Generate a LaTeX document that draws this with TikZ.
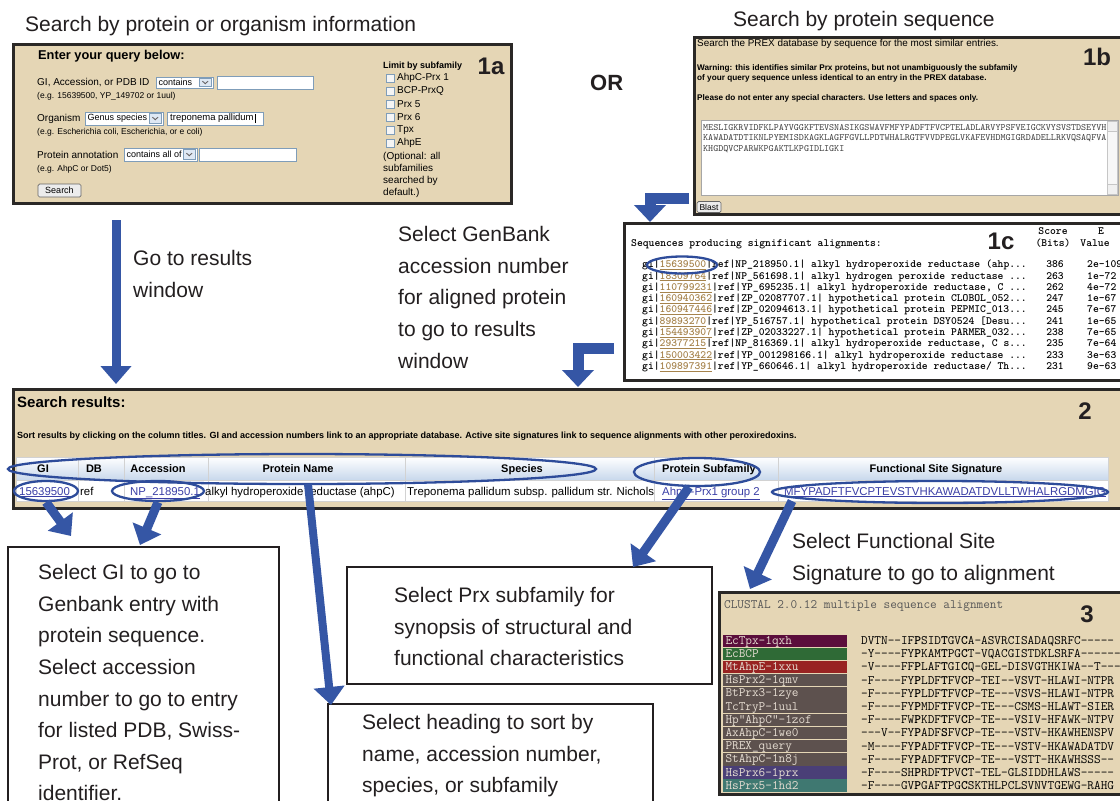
\documentclass[tikz,border=0pt]{standalone}
\usepackage{fontspec}
\setmainfont{Liberation Sans}
\usetikzlibrary{arrows.meta,shapes.geometric}

\definecolor{paneltan}{HTML}{E5D6B5}
\definecolor{panelrule}{HTML}{2A2826}
\definecolor{arrowblue}{HTML}{3556A5}
\definecolor{ringblue}{HTML}{2E4C9A}
\definecolor{ink}{HTML}{231F20}
\definecolor{linkblue}{HTML}{3B3FA6}
\definecolor{linktan}{HTML}{A6834C}
\definecolor{fieldrule}{HTML}{7F9DB9}
\definecolor{headblue}{HTML}{C8D8EC}
\definecolor{seqgrey}{HTML}{3A3A3A}
\definecolor{tpxcol}{HTML}{5B0E3C}
\definecolor{bcpcol}{HTML}{2F6A36}
\definecolor{ahpecol}{HTML}{982322}
\definecolor{prxcol}{HTML}{5D514E}
\definecolor{prxsixcol}{HTML}{4A3F77}
\definecolor{prxfivecol}{HTML}{3F7871}
\definecolor{namefg}{HTML}{E6DDD2}

\newcommand\px[2]{\fontsize{#1}{#2}\selectfont}
\newcommand\gilink[1]{\textcolor{linktan}{\underline{#1}}}
\newcommand\weblink[1]{\textcolor{linkblue}{\underline{#1}}}

\tikzset{
  panel/.style={draw=panelrule, line width=2.6pt, fill=paneltan, inner sep=0pt},
  notebox/.style={draw=ink, line width=1.8pt, fill=white, inner sep=0pt},
  caption/.style={font=\px{21}{31.6}, text=ink, inner sep=0pt, align=left},
  fat/.style={draw=arrowblue, line width=9pt, -{Triangle[width=30pt,length=18pt]}},
  elbow/.style={draw=arrowblue, line width=11pt, line join=miter, -{Triangle[width=31pt,length=17pt]}},
  ring/.style={draw=ringblue, line width=2.3pt, ellipse, inner sep=0pt},
  web/.style={inner sep=0pt, text=black, font=\px{10}{12}},
  formtext/.style={inner sep=0pt, text=black, font=\px{9}{10}},
  field/.style={draw=fieldrule, fill=white, line width=0.8pt},
  checkbox/.style={draw=fieldrule, fill=gray!8, line width=0.7pt},
  button/.style={draw=gray!80!black, fill=gray!15, rounded corners=1.5pt, line width=0.7pt,
    inner sep=0pt, font=\px{9}{10}},
  tag/.style={inner sep=0pt, text=ink, font=\px{24}{26}\bfseries},
  hitrow/.style={inner sep=0pt, text=black, font=\ttfamily\bfseries\px{11.1}{12}},
  headcell/.style={inner sep=0pt, text=black, font=\px{11}{12}\bfseries, anchor=base},
  cell/.style={inner sep=0pt, text=black, font=\px{11.4}{12}, anchor=base west},
  namebox/.style={inner xsep=2.5pt, inner ysep=0pt, text width=119pt, align=left,
    minimum height=12.4pt, text height=8.5pt, text depth=1.5pt, text=namefg,
    font=\ttfamily\px{12.9}{14}},
  seqrow/.style={inner sep=0pt, text=black, font=\ttfamily\px{12.9}{14}, anchor=base west}
}

% one BLAST hit: index, baseline, gi number, remainder, score, e-value
\newcommand\blastrow[6]{%
  \node[hitrow, anchor=base west] (hit#1) at (642,#2) {gi|\gilink{#3}|#4};
  \node[hitrow, anchor=base east] (score#1) at (1064,#2) {#5};
  \node[hitrow, anchor=base west] (eval#1) at (1087,#2) {#6};}

% one alignment line: index, colour of the name cell, name, sequence
\newcommand\alnrow[4]{%
  \node[namebox, fill=#2] (name#1) at (785,{640.7+13.18*(#1-1)}) {#3};
  \node[seqrow] (aln#1) at (861,{644.6+13.18*(#1-1)}) {#4};}

% select box with its drop-down button
\newcommand\dropdown[6]{%
  \draw[field] (#2,#3) rectangle (#4,#5);
  \node[formtext, anchor=west] (#1) at (#2+2.5,{(#3+#5)/2}) {#6};
  \draw[fieldrule, fill=headblue!60, line width=0.6pt] (#4-14,#3+1.5) rectangle (#4-1.5,#5-1.5);
  \draw[ink!70, line width=0.9pt] (#4-10.5,{(#3+#5)/2-1.3}) -- (#4-7.75,{(#3+#5)/2+1.2}) -- (#4-5,{(#3+#5)/2-1.3});}

\begin{document}
\begin{tikzpicture}[x=1pt,y=-1pt]
\useasboundingbox (0,0) rectangle (1120,801);
\fill[white] (0,0) rectangle (1120,801);

% ---------- captions over the two search forms ----------
\node[caption, anchor=base west] (capA) at (25,31.5) {Search by protein or organism information};
\node[caption, anchor=base west] (capB) at (733,26.5) {Search by protein sequence};
\node[caption, font=\px{22}{26}\bfseries, anchor=base west] (orword) at (590,90) {OR};

% ---------- 1a: query form ----------
\node[panel, anchor=north west, minimum width=498pt, minimum height=159pt] (p1a) at (12,43) {};
\node[web, font=\px{12.8}{14}\bfseries, anchor=base west] (qhead) at (38,59.6) {Enter your query below:};
\node[web, anchor=base west] (qgi) at (37,85.6) {GI, Accession, or PDB ID};
\dropdown{ddgi}{156}{77}{213}{88}{contains}
\draw[field] (217,76) rectangle (313,89);
\node[web, font=\px{8.5}{10}, anchor=base west] (exgi) at (37,98) {(e.g. 15639500, YP\_149702 or 1uul)};
\node[web, anchor=base west] (qorg) at (37,121.6) {Organism};
\dropdown{ddorg}{85}{112}{163}{125}{Genus species}
\draw[field] (167,112) rectangle (263,125);
\node[formtext, font=\px{9.5}{10}, anchor=west] (orgval) at (170,118.5) {treponema pallidum};
\draw[black, line width=0.6pt] ([xshift=1pt,yshift=-4.5pt]orgval.east) -- ([xshift=1pt,yshift=4.5pt]orgval.east);
\node[web, font=\px{8.5}{10}, anchor=base west] (exorg) at (37,134) {(e.g. Escherichia coli, Escherichia, or e coli)};
\node[web, anchor=base west] (qann) at (37,158.6) {Protein annotation};
\dropdown{ddann}{124}{148}{197}{161}{contains all of}
\draw[field] (199,148) rectangle (296,161);
\node[web, font=\px{8.5}{10}, anchor=base west] (exann) at (37,171) {(e.g. AhpC or Dot5)};
\node[button, minimum width=43pt, minimum height=13pt] (searchbtn) at (59.5,190.5) {Search};

\node[web, font=\px{9}{11}\bfseries, anchor=base west] (limhead) at (383,68) {Limit by subfamily};
\foreach \i/\yy/\t in {1/78/AhpC-Prx 1, 2/91/BCP-PrxQ, 3/104/Prx 5, 4/117/Prx 6, 5/130/Tpx, 6/143/AhpE}{
  \draw[checkbox] (386.5,\yy-4) rectangle (394.5,\yy+4);
  \node[web, anchor=west] (sub\i) at (397,\yy) {\t};
}
\node[web, align=left, font=\px{10}{12}, anchor=north west] (limnote) at (383,152)
  {(Optional: all\\subfamilies\\searched by\\default.)};
\node[tag] (tag1a) at (491,66) {1a};

% ---------- 1b: sequence form ----------
\node[panel, anchor=north west, minimum width=431pt, minimum height=177pt] (p1b) at (693,36) {};
\node[web, font=\px{9.9}{11}, anchor=base west] (seqintro) at (697,46.5)
  {Search the PREX database by sequence for the most similar entries.};
\node[web, font=\px{8.2}{10}\bfseries, anchor=north west, align=left] (seqwarn) at (697,64)
  {Warning: this identifies similar Prx proteins, but not unambiguously the subfamily\\
   of your query sequence unless identical to an entry in the PREX database.};
\node[web, font=\px{8.2}{10}\bfseries, anchor=base west] (seqrule) at (697,100)
  {Please do not enter any special characters. Use letters and spaces only.};
\node[tag] (tag1b) at (1097,57) {1b};
\draw[field, draw=gray!70] (701,120) rectangle (1118,195);
\draw[draw=gray!45, fill=gray!6] (1107,121) rectangle (1117,194);
\draw[draw=gray!45, fill=gray!12] (1107,121) rectangle (1117,131);
\draw[draw=gray!45, fill=gray!12] (1107,184) rectangle (1117,194);
\node[inner sep=0pt, text=seqgrey, font=\ttfamily\px{9.6}{10.5}, anchor=north west, align=left] (query) at (703,124)
  {MESLIGKRVIDFKLPAYVGGKFTEVSNASIKGSWAVFMFYPADFTFVCPTELADLARVYPSFVEIGCKVYSVSTDSEYVH\\
   KAWADATDTIKNLPYEMISDKAGKLAGFFGVLLPDTWHALRGTFVVDPEGLVKAFEVHDMGIGRDADELLRKVQSAQFVA\\
   KHGDQVCPARWKPGAKTLKPGIDLIGKI};
\node[button, minimum width=24pt, minimum height=11pt, font=\px{8.5}{10}] (blastbtn) at (709,207) {Blast};

% ---------- 1c: BLAST hits ----------
\node[panel, fill=white, anchor=north west, minimum width=501pt, minimum height=157pt] (p1c) at (623,222) {};
\node[hitrow, anchor=base west] (blasthead) at (631,246.5) {Sequences producing significant alignments:};
\node[tag] (tag1c) at (1001,241) {1c};
\node[hitrow, anchor=base] (scorehd) at (1053,234.5) {Score};
\node[hitrow, anchor=base] (bitshd) at (1053,246.5) {(Bits)};
\node[hitrow, anchor=base] (ehd) at (1101,234.5) {E};
\node[hitrow, anchor=base] (valhd) at (1095,246.5) {Value};
\blastrow{1}{267.8}{15639500}{ref|NP\_218950.1| alkyl hydroperoxide reductase (ahp...}{386}{2e-109}
\blastrow{2}{279.1}{18309764}{ref|NP\_561698.1| alkyl hydrogen peroxide reductase ...}{263}{1e-72}
\blastrow{3}{290.3}{110799231}{ref|YP\_695235.1| alkyl hydroperoxide reductase, C ...}{262}{4e-72}
\blastrow{4}{301.6}{160940362}{ref|ZP\_02087707.1| hypothetical protein CLOBOL\_052...}{247}{1e-67}
\blastrow{5}{312.9}{160947446}{ref|ZP\_02094613.1| hypothetical protein PEPMIC\_013...}{245}{7e-67}
\blastrow{6}{324.2}{89893270}{ref|YP\_516757.1| hypothetical protein DSY0524 [Desu...}{241}{1e-65}
\blastrow{7}{335.4}{154493907}{ref|ZP\_02033227.1| hypothetical protein PARMER\_032...}{238}{7e-65}
\blastrow{8}{346.7}{29377215}{ref|NP\_816369.1| alkyl hydroperoxide reductase, C s...}{235}{7e-64}
\blastrow{9}{358.0}{150003422}{ref|YP\_001298166.1| alkyl hydroperoxide reductase ...}{233}{3e-63}
\blastrow{10}{369.2}{109897391}{ref|YP\_660646.1| alkyl hydroperoxide reductase/ Th...}{231}{9e-63}
\node[ring, minimum width=70pt, minimum height=17pt] (hitring) at (682,265) {};

% ---------- 2: search results ----------
\node[panel, anchor=north west, minimum width=1112pt, minimum height=119pt] (p2) at (12,388) {};
\node[web, font=\px{15}{17}\bfseries, anchor=base west] (reshead) at (17,407.5) {Search results:};
\node[web, font=\px{9}{10}\bfseries, anchor=base west] (resnote) at (17,438)
  {Sort results by clicking on the column titles. GI and accession numbers link to an appropriate database. Active site signatures link to sequence alignments with other peroxiredoxins.};
\node[tag] (tag2) at (1085,411) {2};
\fill[white] (16,457) rectangle (1108,501);
\shade[top color=white, bottom color=headblue] (16,457) rectangle (1108,480);
\draw[gray!35, line width=0.6pt] (16,457) rectangle (1108,501);
\draw[gray!35, line width=0.6pt] (16,480) -- (1108,480);
\foreach \x in {78,124,208,405,654,778}{\draw[gray!35, line width=0.6pt] (\x,457) -- (\x,501);}
\node[headcell] (hgi) at (43,472) {GI};
\node[headcell] (hdb) at (94,472) {DB};
\node[headcell] (hacc) at (158,472) {Accession};
\node[headcell] (hname) at (298,472) {Protein Name};
\node[headcell] (hspec) at (522,472) {Species};
\node[headcell] (hsub) at (709,472) {Protein Subfamily};
\node[headcell] (hsig) at (936,472) {Functional Site Signature};
\node[cell] (gival) at (19,495) {\weblink{15639500}};
\node[cell] (dbval) at (80,495) {ref};
\node[cell] (accval) at (130,495) {\weblink{NP\_218950.1}};
\node[cell] (nameval) at (205,495) {alkyl hydroperoxide reductase (ahpC)};
\node[cell] (specval) at (407,495) {Treponema pallidum subsp. pallidum str. Nichols};
\node[cell] (subval) at (662,495) {\weblink{AhpC-Prx1 group 2}};
\node[cell] (sigval) at (784,495) {\weblink{MFYPADFTFVCPTEVSTVHKAWADATDVLLTWHALRGDMGIG}};
\node[ring, minimum width=588pt, minimum height=30pt] (headring) at (302,469) {};
\node[ring, minimum width=64pt, minimum height=20pt] (giring) at (46,491) {};
\node[ring, minimum width=92pt, minimum height=20pt] (accring) at (158,491) {};
\node[ring, minimum width=126pt, minimum height=28pt] (subring) at (697,472) {};
\node[ring, minimum width=336pt, minimum height=22pt] (sigring) at (940,492) {};

% ---------- explanatory boxes ----------
\node[notebox, anchor=north west, minimum width=271pt, minimum height=284pt] (boxA) at (7,546) {};
\node[caption, anchor=north west] (textA) at (38,564.3)
  {Select GI to go to\\Genbank entry with\\protein sequence.\\Select accession\\number to go to entry\\for listed PDB, Swiss-\\Prot, or RefSeq\\identifier.};
\node[notebox, anchor=north west, minimum width=365pt, minimum height=117pt] (boxC) at (346,566) {};
\node[caption, anchor=north west] (textC) at (394,587.3)
  {Select Prx subfamily for\\synopsis of structural and\\functional characteristics};
\node[notebox, anchor=north west, minimum width=325pt, minimum height=127pt] (boxB) at (327,703) {};
\node[caption, anchor=north west] (textB) at (362,714.3)
  {Select heading to sort by\\name, accession number,\\species, or subfamily};
\node[caption, anchor=north west] (textGo) at (133,250.3) {Go to results\\window};
\node[caption, anchor=north west] (textGB) at (398,226.3)
  {Select GenBank\\accession number\\for aligned protein\\to go to results\\window};
\node[caption, anchor=north west] (textFS) at (792,533.3)
  {Select Functional Site\\Signature to go to alignment};

% ---------- 3: CLUSTAL alignment ----------
\node[panel, anchor=north west, minimum width=406pt, minimum height=202pt] (p3) at (718,591) {};
\node[inner sep=0pt, text=seqgrey!85, font=\ttfamily\px{12.9}{14}, anchor=base west] (clustal) at (724,608)
  {CLUSTAL 2.0.12 multiple sequence alignment};
\node[tag] (tag3) at (1087,614) {3};
\alnrow{1}{tpxcol}{EcTpx-1qxh}{DVTN--IF\textbf{P}SID\textbf{T}GV\textbf{C}A-ASVRCISADAQSRFC-----}
\alnrow{2}{bcpcol}{EcBCP}{-Y----FY\textbf{P}KAM\textbf{T}PG\textbf{C}T-VQACGISTDKLSRFA------}
\alnrow{3}{ahpecol}{MtAhpE-1xxu}{-V----FF\textbf{P}LAF\textbf{T}GI\textbf{C}Q-GEL-DISVGTHKIWA--T---}
\alnrow{4}{prxcol}{HsPrx2-1qmv}{-F----FY\textbf{P}LDF\textbf{T}FV\textbf{C}P-TEI--VSVT-HLAWI-NTPR}
\alnrow{5}{prxcol}{BtPrx3-1zye}{-F----FY\textbf{P}LDF\textbf{T}FV\textbf{C}P-TE---VSVS-HLAWI-NTPR}
\alnrow{6}{prxcol}{TcTryP-1uul}{-F----FY\textbf{P}MDF\textbf{T}FV\textbf{C}P-TE---CSMS-HLAWT-SIER}
\alnrow{7}{prxcol}{Hp"AhpC"-1zof}{-F----FW\textbf{P}KDF\textbf{T}FV\textbf{C}P-TE---VSIV-HFAWK-NTPV}
\alnrow{8}{prxcol}{AxAhpC-1we0}{---V--FY\textbf{P}ADF\textbf{S}FV\textbf{C}P-TE---VSTV-HKAWHENSPV}
\alnrow{9}{prxcol}{PREX\_query}{-M----FY\textbf{P}ADF\textbf{T}FV\textbf{C}P-TE---VSTV-HKAWADATDV}
\alnrow{10}{prxcol}{StAhpC-1n8j}{-F----FY\textbf{P}ADF\textbf{T}FV\textbf{C}P-TE---VSTT-HKAWHSSS--}
\alnrow{11}{prxsixcol}{HsPrx6-1prx}{-F----SH\textbf{P}RDF\textbf{T}PV\textbf{C}T-TEL-GLSIDDHLAWS-----}
\alnrow{12}{prxfivecol}{HsPrx5-1hd2}{-F----GV\textbf{P}GAF\textbf{T}PG\textbf{C}SKTHLPCLSVNVTGEWG-RAHG}

% ---------- blue arrows ----------
\coordinate (goStart) at (116,220);
\coordinate (goEnd) at (116,384);
\coordinate (bOut) at (689,198);
\coordinate (bIn) at (650,222);
\coordinate (cOut) at (614,348);
\coordinate (cIn) at (578,387);
\coordinate (giEnd) at (71,536);
\coordinate (accEnd) at (140,545);
\coordinate (nameStart) at (308,484);
\coordinate (nameEnd) at (331,705);
\coordinate (subEnd) at (633,567);
\coordinate (sigStart) at (792,501);
\coordinate (sigEnd) at (750,589);
\draw[fat] (goStart) -- (goEnd);
\draw[elbow] (bOut) -| (bIn);
\draw[elbow] (cOut) -| (cIn);
\draw[fat] (giring.south) -- (giEnd);
\draw[fat] (accring.south) -- (accEnd);
\draw[fat, line width=8pt] (nameStart) -- (nameEnd);
\draw[fat] (subring.-118) -- (subEnd);
\draw[fat] (sigStart) -- (sigEnd);
\end{tikzpicture}
\end{document}
